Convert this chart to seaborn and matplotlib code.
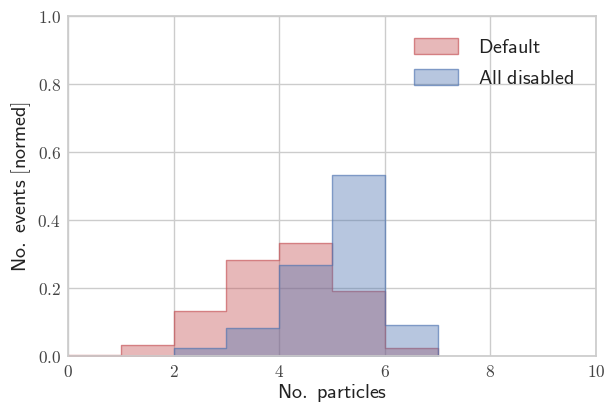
import numpy as np
import pandas as pd
import seaborn as sns
import matplotlib.pyplot as plt
from matplotlib.ticker import FuncFormatter

# bin centres and normalised heights (bins of width 1)
default_x = [0.5, 1.5, 2.5, 3.5, 4.5, 5.5, 6.5]
default_h = [0.002, 0.033, 0.133, 0.283, 0.333, 0.192, 0.025]
disabled_x = [2.5, 3.5, 4.5, 5.5, 6.5]
disabled_h = [0.025, 0.083, 0.267, 0.533, 0.092]

sns.set_theme(style="whitegrid", palette="deep")
plt.rcParams["mathtext.fontset"] = "cm"
plt.rcParams["axes.edgecolor"] = "#cccccc"
plt.rcParams["grid.color"] = "#cccccc"

df_def = pd.DataFrame({"x": default_x, "w": default_h})
df_dis = pd.DataFrame({"x": disabled_x, "w": disabled_h})
red, blue = sns.color_palette("deep")[3], sns.color_palette("deep")[0]

fig = plt.figure(figsize=(6.05, 4.04), dpi=100)
ax = fig.add_axes([0.1124, 0.1188, 0.8727, 0.8416])

sns.histplot(data=df_def, x="x", weights="w", binwidth=1, binrange=(0, 7), element="step",
             color=red, alpha=0.4, edgecolor=(*red, 0.65), linewidth=1, ax=ax,
             label=r"$\mathsf{Default}$")
sns.histplot(data=df_dis, x="x", weights="w", binwidth=1, binrange=(2, 7), element="step",
             color=blue, alpha=0.4, edgecolor=(*blue, 0.65), linewidth=1, ax=ax,
             label=r"$\mathsf{All\ disabled}$")

ax.set_xlim(0, 10)
ax.set_ylim(0, 1.0)
ax.set_xticks(range(0, 11, 2))
ax.set_yticks(np.arange(0, 1.01, 0.2))
ax.xaxis.set_major_formatter(FuncFormatter(lambda v, p: f"${v:.0f}$"))
ax.yaxis.set_major_formatter(FuncFormatter(lambda v, p: f"${v:.1f}$"))
ax.tick_params(labelsize=12.5, colors="#444444", length=0, pad=5)
for s in ax.spines.values():
    s.set_visible(True)
    s.set_color("#cccccc")

ax.set_xlabel(r"$\mathsf{No.\ particles}$", fontsize=14.5, color="#222222", labelpad=0.5)
ax.set_ylabel(r"$\mathsf{No.\ events\ [normed]}$", fontsize=14.5, color="#222222", labelpad=3)

leg = ax.legend(loc="upper right", frameon=False, fontsize=14.5, handlelength=2.2,
                handleheight=0.85, borderaxespad=0.7, labelspacing=0.6, handletextpad=0.95)
for t in leg.get_texts():
    t.set_color("#222222")

plt.savefig("out.png", dpi=100)
